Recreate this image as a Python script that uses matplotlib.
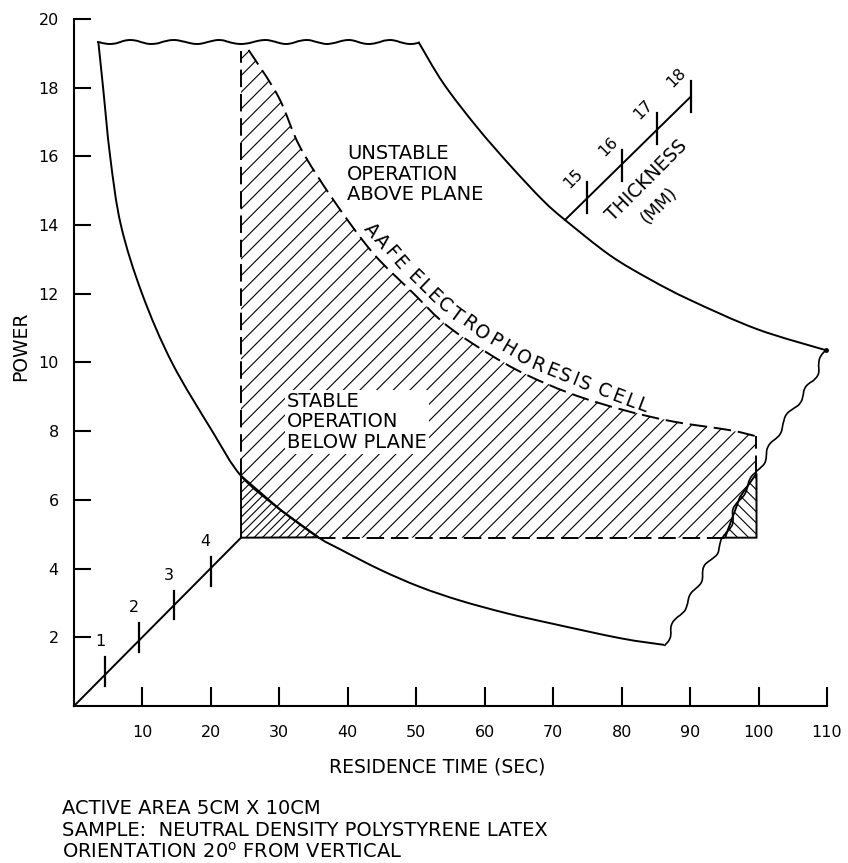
import numpy as np
import matplotlib
matplotlib.use("Agg")
import matplotlib.pyplot as plt
from matplotlib.path import Path
from matplotlib.patches import PathPatch

plt.rcParams['font.family'] = ['DejaVu Sans']
plt.rcParams['hatch.linewidth'] = 0.8

# boundary curves (residence time in sec, power)
left_t = [3.55, 4.25, 5.28, 6.85, 9.95, 14.3, 20.2, 24.4, 30.1,
          35.7, 38.9, 44.7, 50.5, 56.4, 63.2, 69.8, 79.9, 86.2]
left_p = [19.34, 18.0, 16.0, 14.0, 12.0, 10.0, 8.0, 6.7, 5.72,
          4.91, 4.56, 3.97, 3.47, 3.07, 2.70, 2.40, 1.97, 1.78]

right_t = [50.3, 53.95, 58.83, 63.7, 68.5, 71.73, 78.3, 84.15, 90.0, 99.8, 109.8]
right_p = [19.34, 18.13, 16.86, 15.74, 14.72, 14.15, 13.12, 12.42, 11.82, 10.97, 10.36]

top_t = [3.55, 50.3]
top_p = [19.34, 19.34]

cut_t = [109.8, 108.0, 103.6, 99.7, 97.3, 95.1, 92.4, 90.0, 88.5, 86.2]
cut_p = [10.36, 9.49, 8.23, 6.77, 6.09, 4.9, 4.06, 3.09, 2.70, 1.78]

# AAFE electrophoresis cell operating plane
cell_t = [25.5, 29.85, 33.0, 37.9, 43.7, 49.6, 53.5, 57.4, 64.7, 72.5, 80.2, 87.55, 95.8, 99.7]
cell_p = [19.1, 17.74, 16.28, 14.73, 13.18, 12.01, 11.24, 10.66, 9.78, 9.1, 8.62, 8.28, 8.03, 7.85]
plane_left = 24.4
plane_right = 99.7
plane_floor = 4.9
plane_left_top = 19.07

# thickness scales (mm)
thick_lo_labels = ['1', '2', '3', '4']
thick_lo_t = [4.53, 9.54, 14.6, 20.0]
thick_lo_p = [1.0, 2.0, 2.94, 3.91]
thick_lo_line_t = [0.0, 24.4]
thick_lo_line_p = [0.0, 4.9]

thick_hi_labels = ['15', '16', '17', '18']
thick_hi_t = [75.0, 80.1, 85.2, 90.1]
thick_hi_p = [14.81, 15.73, 16.82, 17.74]
thick_hi_line_t = [71.73, 90.1]
thick_hi_line_p = [14.15, 17.74]

xticks = [10, 20, 30, 40, 50, 60, 70, 80, 90, 100, 110]
yticks = [2, 4, 6, 8, 10, 12, 14, 16, 18, 20]

cell_label = "AAFE ELECTROPHORESIS CELL"
cell_label_t = [42.66, 47.92, 53.47, 60.34, 66.62, 74.65, 83.86]
cell_label_p = [14.03, 12.81, 11.74, 10.74, 10.01, 9.37, 8.67]

notes = ["ACTIVE AREA 5CM X 10CM",
         "SAMPLE:  NEUTRAL DENSITY POLYSTYRENE LATEX",
         r"ORIENTATION 20$^{\mathrm{o}}$ FROM VERTICAL"]


def smooth_path(xs, ys):
    # bezier segments passing through the given points
    p = np.column_stack([xs, ys]).astype(float)
    verts = [p[0]]
    codes = [Path.MOVETO]
    for i in range(len(p) - 1):
        p0 = p[i - 1] if i > 0 else p[i]
        p3 = p[i + 2] if i + 2 < len(p) else p[i + 1]
        verts += [p[i] + (p[i + 1] - p0) / 6, p[i + 1] - (p3 - p[i]) / 6, p[i + 1]]
        codes += [Path.CURVE4] * 3
    return Path(verts, codes)


fig = plt.figure(figsize=(8.48, 8.63), dpi=100)
ax = fig.add_axes([74 / 848, 157 / 863, 753 / 848, 687 / 863])
ax.set_xlim(0, 110)
ax.set_ylim(0, 20)
for side in ['top', 'right']:
    ax.spines[side].set_visible(False)
for side in ['left', 'bottom']:
    ax.spines[side].set_linewidth(1.5)

ax.set_xticks(xticks)
ax.set_yticks(yticks)
ax.tick_params(axis='x', direction='in', length=14, width=1.5, pad=14, labelsize=11.5)
ax.tick_params(axis='y', direction='in', length=12, width=1.5, pad=11, labelsize=11.5)

lw = 1.4
dash = (0, (9, 3.5))

# hatched operating region
poly_t = [plane_left, plane_left] + cell_t + [plane_right, plane_right]
poly_p = [plane_floor, plane_left_top] + cell_p + [cell_p[-1], plane_floor]
ax.fill(poly_t, poly_p, facecolor='none', edgecolor='black', linewidth=0, hatch='//', zorder=1)

# small dark corners
lt = [t for t in left_t if plane_left <= t <= 36]
lp = [p for t, p in zip(left_t, left_p) if plane_left <= t <= 36]
ax.fill([plane_left] + lt, [plane_floor] + lp, facecolor='white', edgecolor='black',
        linewidth=lw, hatch='////', zorder=3)
rt = [t for t, p in zip(cut_t, cut_p) if plane_floor <= p <= 6.8]
rp = [p for p in cut_p if plane_floor <= p <= 6.8]
ax.fill([plane_right] + rt, [plane_floor] + rp, facecolor='white', edgecolor='black',
        linewidth=lw, hatch='\\\\\\', zorder=3)

# dashed outline of plane
ax.add_patch(PathPatch(smooth_path(cell_t, cell_p), fill=False, lw=lw, ls=dash, zorder=4))
ax.plot([plane_left, plane_left], [lp[0], plane_left_top], color='black', lw=lw, ls=dash, zorder=4)
ax.plot([plane_right, plane_right], [rp[0], cell_p[-1]], color='black', lw=lw, ls=dash, zorder=4)
ax.plot([lt[-1], rt[-1]], [plane_floor, plane_floor], color='black', lw=lw, ls=dash, zorder=4)

# envelope
ax.add_patch(PathPatch(smooth_path(left_t, left_p), fill=False, lw=lw, zorder=4))
ax.add_patch(PathPatch(smooth_path(right_t, right_p), fill=False, lw=lw, zorder=4))
top_line, = ax.plot(top_t, top_p, color='black', lw=lw, zorder=4)
top_line.set_sketch_params(scale=2.0, length=45, randomness=1.5)
cut_line, = ax.plot(cut_t, cut_p, color='black', lw=1.2, zorder=4, clip_on=False)
cut_line.set_sketch_params(scale=2.4, length=35, randomness=1.5)
ax.plot([right_t[-1]], [right_p[-1]], marker='o', ms=2.5, color='black', clip_on=False)

# thickness scales
ax.plot(thick_lo_line_t, thick_lo_line_p, color='black', lw=lw, zorder=4, clip_on=False)
for lab, t, p in zip(thick_lo_labels, thick_lo_t, thick_lo_p):
    ax.plot([t, t], [p - 0.42, p + 0.42], color='black', lw=1.6, zorder=4)
    ax.text(t - 0.75, p + 0.87, lab, ha='center', va='center', fontsize=11.5)

ax.plot(thick_hi_line_t, thick_hi_line_p, color='black', lw=lw, zorder=4)
for lab, t, p in zip(thick_hi_labels, thick_hi_t, thick_hi_p):
    ax.plot([t, t], [p - 0.45, p + 0.45], color='black', lw=1.6, zorder=4)
    ax.text(t - 2.1, p + 0.55, lab, ha='center', va='center', rotation=45, fontsize=11.5)
ax.text(83.7, 15.31, "THICKNESS", ha='center', va='center', rotation=45, fontsize=13.5)
ax.text(85.5, 14.56, "(MM)", ha='center', va='center', rotation=45, fontsize=12.5)

# region labels
ax.text(39.9, 16.35, "UNSTABLE\nOPERATION\nABOVE PLANE", ha='left', va='top',
        fontsize=14, linespacing=1.1)
ax.text(31.1, 9.15, "STABLE\nOPERATION\nBELOW PLANE", ha='left', va='top',
        fontsize=14, linespacing=1.1, zorder=5,
        bbox=dict(facecolor='white', edgecolor='none', pad=1.5))

ax.set_ylabel("POWER", fontsize=13.5)
ax.yaxis.set_label_coords(-0.058, 0.524)
ax.set_xlabel("RESIDENCE TIME (SEC)", fontsize=13.5)
ax.xaxis.set_label_coords(0.482, -0.075)

for i, line in enumerate(notes):
    fig.text(62 / 848, (863 - 814 - 21.7 * i) / 863, line, ha='left', va='baseline', fontsize=14)

# curved label along the plane edge
fig.canvas.draw()
renderer = fig.canvas.get_renderer()
guide = ax.transData.transform(np.column_stack([cell_label_t, cell_label_p]))
seg = np.hypot(*np.diff(guide, axis=0).T)
arc = np.concatenate([[0], np.cumsum(seg)])
widths = []
for ch in cell_label:
    probe = ax.text(0, 0, 'I' if ch == ' ' else ch, fontsize=13.5)
    widths.append(probe.get_window_extent(renderer).width)
    probe.remove()
widths = np.array(widths)
centers = (np.cumsum(widths) - widths / 2) * arc[-1] / widths.sum()
inv = ax.transData.inverted()
for ch, s in zip(cell_label, centers):
    if ch == ' ':
        continue
    i = int(np.clip(np.searchsorted(arc, s) - 1, 0, len(seg) - 1))
    d = guide[i + 1] - guide[i]
    pos = guide[i] + d * (s - arc[i]) / seg[i]
    ang = np.degrees(np.arctan2(d[1], d[0]))
    x, y = inv.transform(pos)
    ax.text(x, y, ch, rotation=ang, rotation_mode='anchor', ha='center', va='center', fontsize=13.5)

fig.savefig("out.png", dpi=100)
